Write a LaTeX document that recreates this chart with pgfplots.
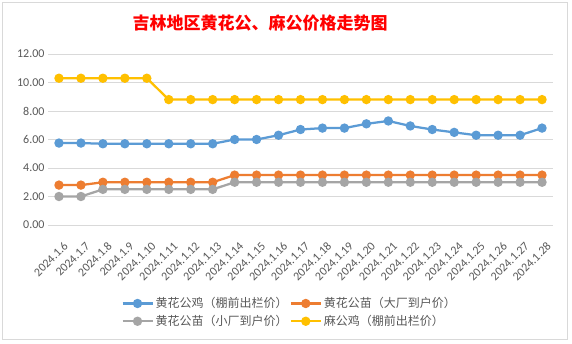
\documentclass[border=0pt]{standalone}
\usepackage{fontspec}
\setmainfont{Carlito}
\newfontfamily\cjk{Noto Sans CJK SC}
\usepackage{pgfplots}
\pgfplotsset{compat=1.18}
\definecolor{cblue}{HTML}{5B9BD5}
\definecolor{corange}{HTML}{ED7D31}
\definecolor{cgray}{HTML}{A5A5A5}
\definecolor{cyellow}{HTML}{FFC000}
\definecolor{cgrid}{HTML}{D9D9D9}
\definecolor{clabel}{HTML}{595959}
\begin{document}
\begin{tikzpicture}[x=1pt,y=1pt]
\fill[white] (0,0) rectangle (572,-344);
\draw[cgrid, line width=1pt] (2.5,-2.5) rectangle (567.5,-339.5);
\node[font=\cjk\bfseries\fontsize{17}{20}\selectfont, text=red] at (260,-23) {吉林地区黄花公、麻公价格走势图};
\begin{axis}[
  at={(48pt,-225pt)}, anchor=south west,
  width=505pt, height=171pt, scale only axis,
  xmin=-0.5, xmax=22.5, ymin=0, ymax=12,
  ytick={0,2,...,12}, xtick={0,...,22},
  xticklabels={2024.1.6,2024.1.7,2024.1.8,2024.1.9,2024.1.10,2024.1.11,2024.1.12,2024.1.13,2024.1.14,2024.1.15,2024.1.16,2024.1.17,2024.1.18,2024.1.19,2024.1.20,2024.1.21,2024.1.22,2024.1.23,2024.1.24,2024.1.25,2024.1.26,2024.1.27,2024.1.28},
  ymajorgrids, grid style={draw=cgrid, line width=0.75pt},
  axis line style={draw=none}, major tick length=0pt,
  yticklabel style={font=\fontsize{12}{14}\selectfont, text=clabel,
    /pgf/number format/fixed, /pgf/number format/fixed zerofill,
    /pgf/number format/precision=2, /pgf/number format/assume math mode=true},
  xticklabel style={font=\fontsize{12}{14}\selectfont, text=clabel, inner sep=0pt, anchor=east, xshift=7pt, yshift=-19pt, rotate=45},
  clip=false,
  every axis plot/.append style={line width=2.25pt, mark=*, mark size=3.5pt},
  legend columns=2,
  legend cell align=left,
  legend style={draw=none, fill=none, at={(0.139,-0.40)}, anchor=north west,
    font=\cjk\fontsize{12}{14}\selectfont, text=clabel,
    /tikz/every even column/.append style={column sep=0pt}, row sep=2pt},
  legend image code/.code={\draw[#1, mark repeat=2, mark phase=2] plot coordinates {(0pt,0pt) (15pt,0pt) (30pt,0pt)};},
]
\addplot[cblue, mark options={fill=cblue}] coordinates {(0,5.75)(1,5.75)(2,5.7)(3,5.7)(4,5.7)(5,5.7)(6,5.7)(7,5.7)(8,6.0)(9,6.0)(10,6.3)(11,6.7)(12,6.8)(13,6.8)(14,7.1)(15,7.3)(16,6.95)(17,6.7)(18,6.5)(19,6.3)(20,6.3)(21,6.3)(22,6.8)};
\addlegendentry{黄花公鸡（棚前出栏价）}
\addplot[corange, mark options={fill=corange}] coordinates {(0,2.8)(1,2.8)(2,3.0)(3,3.0)(4,3.0)(5,3.0)(6,3.0)(7,3.0)(8,3.5)(9,3.5)(10,3.5)(11,3.5)(12,3.5)(13,3.5)(14,3.5)(15,3.5)(16,3.5)(17,3.5)(18,3.5)(19,3.5)(20,3.5)(21,3.5)(22,3.5)};
\addlegendentry{黄花公苗（大厂到户价）}
\addplot[cgray, mark options={fill=cgray}] coordinates {(0,2.0)(1,2.0)(2,2.5)(3,2.5)(4,2.5)(5,2.5)(6,2.5)(7,2.5)(8,3.0)(9,3.0)(10,3.0)(11,3.0)(12,3.0)(13,3.0)(14,3.0)(15,3.0)(16,3.0)(17,3.0)(18,3.0)(19,3.0)(20,3.0)(21,3.0)(22,3.0)};
\addlegendentry{黄花公苗（小厂到户价）}
\addplot[cyellow, mark options={fill=cyellow}] coordinates {(0,10.3)(1,10.3)(2,10.3)(3,10.3)(4,10.3)(5,8.8)(6,8.8)(7,8.8)(8,8.8)(9,8.8)(10,8.8)(11,8.8)(12,8.8)(13,8.8)(14,8.8)(15,8.8)(16,8.8)(17,8.8)(18,8.8)(19,8.8)(20,8.8)(21,8.8)(22,8.8)};
\addlegendentry{麻公鸡（棚前出栏价）}
\end{axis}
\end{tikzpicture}
\end{document}
